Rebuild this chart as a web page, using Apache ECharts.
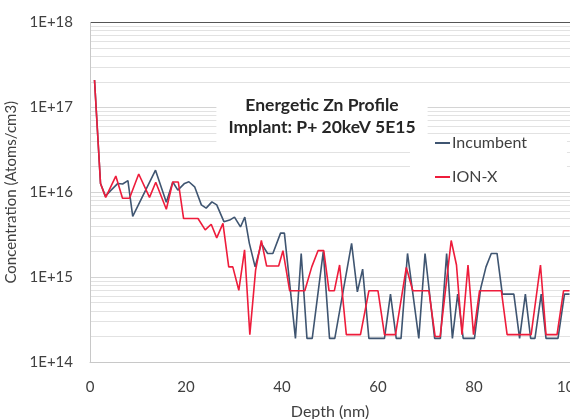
<!DOCTYPE html>
<html>
<head>
<meta charset="utf-8">
<script src="https://cdn.jsdelivr.net/npm/echarts@6/dist/echarts.min.js"></script>
<style>
  html, body { margin: 0; padding: 0; background: #fff; }
  #chart { width: 570px; height: 419px; }
</style>
</head>
<body>
<div id="chart"></div>
<script>
// ---- data ----
const seriesNames = ['Incumbent', 'ION-X'];

const incumbentDepth = [0.94,2.19,3.2,4.4,5.8,6.8,7.9,8.9,13.65,15.9,17.25,18.3,19.7,20.6,21.8,23.2,24.2,25.4,26.4,27.9,29.1,30.1,31.35,32.25,33.2,34.4,35.7,37.0,38.1,39.7,40.5,42.8,44.0,45.2,46.3,48.6,49.9,51.0,54.5,55.7,56.8,58.1,61.35,62.6,63.8,64.8,66.15,68.5,69.8,71.8,73.0,74.3,75.5,76.6,77.75,80.1,81.4,82.5,83.6,84.8,85.9,88.3,89.5,90.7,91.8,92.7,94.0,95.0,97.5,98.85,99.9];
const incumbentConc = [2.1e17,1.27e16,9.0e15,1.06e16,1.27e16,1.25e16,1.37e16,5.2e15,1.82e16,7.6e15,1.32e16,1.06e16,1.27e16,1.33e16,1.16e16,7.1e15,6.5e15,7.7e15,7.1e15,4.5e15,4.7e15,5.1e15,3.9e15,5.1e15,2.5e15,1.32e15,2.5e15,1.9e15,1.9e15,3.3e15,3.3e15,1.9e14,1.9e15,1.9e14,1.9e14,2.0e15,1.9e14,1.9e14,2.5e15,6.7e14,1.24e15,1.9e14,1.9e14,6.3e14,1.9e14,1.9e14,1.9e15,1.9e14,1.9e15,1.9e14,1.9e14,1.9e15,1.9e14,6.3e14,1.9e14,1.9e14,7.4e14,1.32e15,1.9e15,1.9e15,6.3e14,6.3e14,1.9e14,6.3e14,1.9e14,1.9e14,6.3e14,1.9e14,1.9e14,6.3e14,6.3e14];

const ionxDepth = [0.94,2.19,3.27,5.38,6.77,8.23,10.15,12.4,13.7,15.9,17.25,18.4,19.5,22.5,24.0,25.25,26.4,27.7,28.9,29.75,31.0,32.2,33.3,34.5,35.7,36.8,39.3,40.2,41.6,44.75,46.2,47.5,48.7,49.8,50.9,52.0,53.4,56.35,58.1,60.0,61.35,63.65,65.9,67.25,70.6,71.9,72.95,75.25,76.35,77.5,78.75,79.9,81.15,85.7,86.9,91.9,93.85,95.0,97.3,98.65,99.9];
const ionxConc = [2.1e17,1.27e16,8.7e15,1.55e16,8.5e15,8.5e15,1.64e16,8.7e15,1.31e16,6.3e15,1.32e16,1.32e16,4.9e15,4.9e15,3.6e15,4.2e15,2.9e15,4.3e15,1.32e15,1.32e15,7.0e14,2.1e15,2.1e14,1.21e15,2.7e15,1.35e15,1.35e15,2.05e15,6.9e14,6.9e14,1.32e15,2.05e15,2.05e15,6.9e14,6.9e14,1.39e15,2.1e14,2.1e14,6.9e14,6.9e14,2.1e14,2.1e14,1.3e15,6.9e14,6.9e14,2.0e14,2.0e14,2.7e15,1.39e15,2.1e14,1.39e15,2.1e14,6.9e14,6.9e14,2.1e14,2.1e14,1.39e15,2.1e14,2.1e14,6.9e14,6.9e14];

const xTicks = [0, 20, 40, 60, 80, 100];
const yDecades = [1e14, 1e15, 1e16, 1e17, 1e18];
const minorMultipliers = [2, 3, 4, 5, 6, 7, 8, 9];

const titleLines = ['Energetic Zn Profile', 'Implant: P+ 20keV 5E15'];
const xName = 'Depth (nm)';
const yName = 'Concentration (Atoms/cm3)';

// ---- build ----
const minorLines = [];
yDecades.slice(0, -1).forEach(d => minorMultipliers.forEach(m => minorLines.push({ yAxis: m * d })));

const pair = (xs, ys) => xs.map((x, i) => [x, ys[i]]);
const FONT = 'Lato';

const chart = echarts.init(document.getElementById('chart'), null, { renderer: 'canvas' });
chart.setOption({
  animation: false,
  backgroundColor: '#ffffff',
  textStyle: { fontFamily: FONT },
  title: {
    text: titleLines.join('\n'),
    left: 310,
    top: 85,
    textAlign: 'center',
    backgroundColor: '#ffffff',
    padding: [9, 12, 10, 12],
    textStyle: { fontFamily: FONT, fontSize: 17.5, fontWeight: 'bold', color: '#262626', lineHeight: 22 }
  },
  legend: {
    orient: 'vertical',
    left: 410,
    top: 134,
    backgroundColor: '#ffffff',
    padding: [1, 40, 6, 25],
    itemGap: 18,
    itemWidth: 15,
    itemHeight: 2,
    icon: 'rect',
    data: seriesNames,
    textStyle: { fontFamily: FONT, fontSize: 16, color: '#404040', padding: [0, 0, 0, -3] }
  },
  grid: { left: 90, right: 0, top: 22.5, bottom: 57, containLabel: false, outerBoundsMode: 'none' },
  xAxis: {
    type: 'value',
    min: xTicks[0],
    max: xTicks[xTicks.length - 1],
    interval: 20,
    name: xName,
    nameLocation: 'middle',
    nameGap: 42,
    nameTextStyle: { fontFamily: FONT, fontSize: 16, color: '#404040' },
    axisLine: { show: true, lineStyle: { color: '#c8c8c8', width: 1 } },
    axisTick: { show: false },
    splitLine: { show: false },
    axisLabel: { fontFamily: FONT, fontSize: 15, color: '#404040', margin: 18, hideOverlap: false },
  },
  yAxis: {
    type: 'log',
    logBase: 10,
    min: yDecades[0],
    max: yDecades[yDecades.length - 1],
    name: yName,
    nameLocation: 'middle',
    nameGap: 69,
    nameTextStyle: { fontFamily: FONT, fontSize: 15, color: '#404040' },
    axisLine: { show: true, lineStyle: { color: '#c8c8c8', width: 1 } },
    axisTick: { show: false },
    splitLine: { show: true, lineStyle: { color: '#d4d4d4', width: 1 } },
    axisLabel: {
      fontFamily: FONT, fontSize: 15, color: '#404040', margin: 17,
      formatter: v => '1E+' + Math.round(Math.log10(v))
    }
  },
  series: [
    {
      name: '__grid',
      type: 'line',
      data: [],
      z: 0,
      silent: true,
      markLine: {
        silent: true,
        symbol: 'none',
        z: 0,
        animation: false,
        label: { show: false },
        lineStyle: { color: '#e2e2e2', width: 1, type: 'solid' },
        data: minorLines.concat([{ yAxis: yDecades[yDecades.length - 1], lineStyle: { color: '#555555', width: 1.2 } }])
      }
    },
    {
      name: seriesNames[0],
      type: 'line',
      data: pair(incumbentDepth, incumbentConc),
      symbol: 'none',
      z: 3,
      lineStyle: { color: '#3f5571', width: 1.6 },
      itemStyle: { color: '#3f5571' }
    },
    {
      name: seriesNames[1],
      type: 'line',
      data: pair(ionxDepth, ionxConc),
      symbol: 'none',
      z: 4,
      lineStyle: { color: '#ee1c3b', width: 1.6 },
      itemStyle: { color: '#ee1c3b' }
    }
  ]
});
</script>
</body>
</html>
